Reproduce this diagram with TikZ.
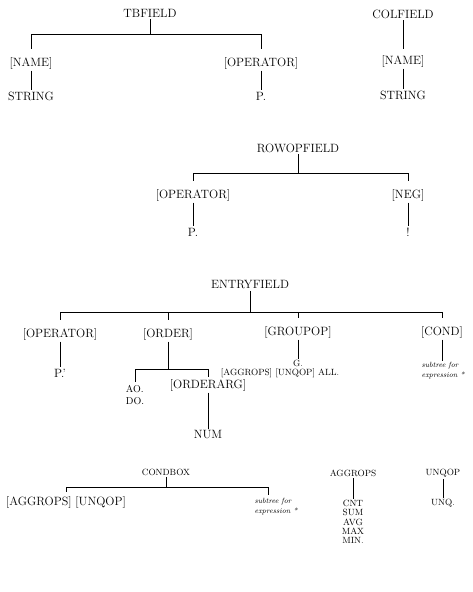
\documentclass[tikz,border=0pt]{standalone}
\usepackage{tikz}
\usetikzlibrary{calc}

\begin{document}
\begin{tikzpicture}[x=1pt,y=-1pt,
	lbl/.style={inner sep=1.5pt,font=\fontsize{12}{13}\selectfont},
	sml/.style={inner sep=1pt,font=\fontsize{9}{10}\selectfont},
	hdr/.style={inner sep=1.5pt,font=\fontsize{9}{10}\selectfont},
	expr/.style={inner sep=1pt,align=left,font=\fontsize{7.5}{10}\selectfont\itshape},
	edge/.style={line width=0.6pt},
	drop/.style={edge,shorten >=6pt}]
	
	\useasboundingbox (0,0) rectangle (472,592);
	
	% TBFIELD
	\node[lbl] (tbfield) at (150,13) {TBFIELD};
	\coordinate (tbj) at (150,34);
	
	\node[lbl] (tbname) at (31,63) {[NAME]};
	\node[lbl] (tbstring) at (31,96) {STRING};
	\node[lbl] (tbop) at (261,63) {[OPERATOR]};
	\node[lbl] (tbp) at (261,96) {P.};
	
	\draw[edge] (tbfield) -- (tbj);
	\draw[drop] (tbj) -| (tbname);
	\draw[drop] (tbj) -| (tbop);
	\draw[edge] (tbname) -- (tbstring);
	\draw[edge] (tbop) -- (tbp);
	
	% COLFIELD
	\node[lbl] (colfield) at (403,14) {COLFIELD};
	\node[lbl] (colname) at (403,61) {[NAME]};
	\node[lbl] (colstring) at (403,95) {STRING};
	
	\draw[edge,shorten >=4pt] (colfield) -- (colname);
	\draw[edge] (colname) -- (colstring);
	
	% ROWOPFIELD
	\node[lbl] (rowop) at (298,148) {ROWOPFIELD};
	\coordinate (rowj) at (298,173);
	
	\node[lbl] (rowopr) at (193,195) {[OPERATOR]};
	\node[lbl] (rowp) at (193,232) {P.};
	\node[lbl] (rowneg) at (408,195) {[NEG]};
	\node[lbl] (rowbang) at (408,232) {!};
	
	\draw[edge] (rowop) -- (rowj);
	\draw[drop] (rowj) -| (rowopr);
	\draw[drop] (rowj) -| (rowneg);
	\draw[edge] (rowopr) -- (rowp);
	\draw[edge] (rowneg) -- (rowbang);
	
	% ENTRYFIELD
	\node[lbl] (entry) at (250,285) {ENTRYFIELD};
	\coordinate (entj) at (250,312);
	
	\node[lbl] (entop) at (60,334) {[OPERATOR]};
	\node[lbl] (entp) at (60,373) {P.'};
	
	\node[lbl] (entord) at (168,334) {[ORDER]};
	\coordinate (ordj) at (168,369);
	\node[lbl,font=\fontsize{10}{12}\selectfont,align=left] (aodo) at (135,395) {AO.\\DO.};
	\node[lbl] (ordarg) at (208,385) {[ORDERARG]};
	\node[lbl] (num) at (208,435) {NUM};
	
	\node[lbl] (entgrp) at (298,332) {[GROUPOP]};
	\node[sml] (entg) at (298,363) {G.};
	\node[sml] (entagg) at (280,373) {[AGGROPS] [UNQOP] ALL.};
	
	\node[lbl] (entcond) at (442,332) {[COND]};
	\node[expr] (entsub) at (443,371) {subtree for\\expression *};
	
	\draw[edge] (entry) -- (entj);
	\draw[drop] (entj) -| (entop);
	\draw[drop] (entj) -| (entord);
	\draw[drop] (entj) -| (entgrp);
	\draw[drop] (entj) -| (entcond);
	\draw[edge] (entop) -- (entp);
	\draw[edge] (entord) -- (ordj);
	\draw[edge,shorten >=2pt] (ordj) -| (aodo);
	\draw[edge] (ordj) -| (ordarg);
	\draw[edge] (ordarg) -- (num);
	\draw[edge] (entgrp) -- (entg);
	\draw[edge] (entcond) -- (entcond |- entsub.north);
	
	% CONDBOX
	\node[hdr] (condbox) at (166,472) {CONDBOX};
	\coordinate (cbj) at (166,487);
	
	\node[lbl] (cbagg) at (66,502) {[AGGROPS] [UNQOP]};
	\node[expr] (cbsub) at (276,507) {subtree for\\expression *};
	
	\draw[edge] (condbox) -- (cbj);
	\draw[edge,shorten >=2pt] (cbj) -| (cbagg);
	\draw[edge,shorten >=2pt] (cbj) -| ($(cbsub.north)+(-8,0)$);
	
	% AGGROPS and UNQOP
	\node[hdr] (aggrops) at (353,473) {AGGROPS};
	\node[sml,align=center,font=\fontsize{9}{9.4}\selectfont] (agglist) at (353,522) {CNT\\SUM\\AVG\\MAX\\MIN.};
	\node[hdr] (unqop) at (443,473) {UNQOP};
	\node[sml] (unq) at (443,503) {UNQ.};
	
	\draw[edge] (aggrops) -- (agglist);
	\draw[edge] (unqop) -- (unq);
	
\end{tikzpicture}
\end{document}
